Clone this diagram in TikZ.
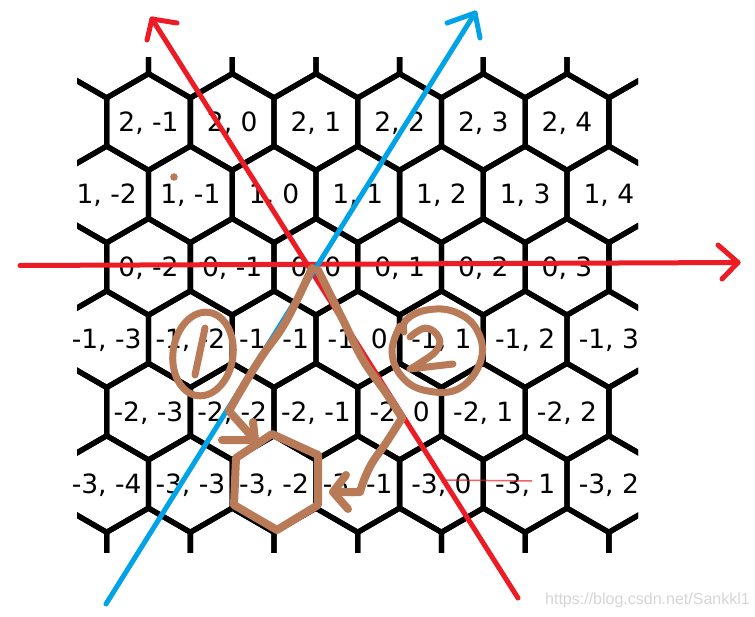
\documentclass[tikz,border=0pt]{standalone}
\usepackage{fontspec}
\newfontfamily\lblfont{DejaVu Sans}
\newfontfamily\wmfont{Liberation Sans}
\definecolor{pred}{HTML}{ED1C24}
\definecolor{pblue}{HTML}{00A2E8}
\definecolor{pbrown}{HTML}{B97A57}
\definecolor{wmgray}{HTML}{D6D6D6}
\tikzset{
  gridln/.style={line width=5.3bp, draw=black},
  lbl/.style={font=\lblfont\fontsize{26.5bp}{30bp}\selectfont, inner sep=0pt, anchor=base, text=black},
  redln/.style={line width=5bp, draw=pred, line cap=round, line join=round},
  blueln/.style={line width=5bp, draw=pblue, line cap=round, line join=round},
  brn/.style={line width=8bp, draw=pbrown, line cap=round, line join=round},
  wm/.style={font=\wmfont\fontsize{16bp}{18bp}\selectfont, text=wmgray, inner sep=0pt},
}
\begin{document}
\begin{tikzpicture}[x=1bp,y=-1bp]
\useasboundingbox (0,0) rectangle (755,617);
\fill[white] (0,0) rectangle (755,617);
% hex grid
\begin{scope}
\clip (77,58) rectangle (638,552);
\foreach \rw in {-4,...,3} {
  \pgfmathsetmacro\cy{266.8-72.4*\rw}
  \pgfmathsetmacro\xo{148.5-41.85*abs(mod(\rw,2))}
  \foreach \k in {-1,...,7} {
    \pgfmathsetmacro\cx{\xo+83.7*\k}
    \draw[gridln] (\cx+41.85,\cy+24.15) -- (\cx,\cy+48.3) -- (\cx-41.85,\cy+24.15)
      -- (\cx-41.85,\cy-24.15) -- (\cx,\cy-48.3) -- (\cx+41.85,\cy-24.15) -- cycle;
  }
}
\end{scope}
% labels
\foreach \rw/\xo/\co/\nn in {2/148.5/-1/5, 1/106.65/-2/6, 0/148.5/-2/5, -1/106.65/-3/6, -2/148.5/-3/5, -3/106.65/-4/6} {
  \foreach \k in {0,...,\nn} {
    \pgfmathtruncatemacro\cc{\co+\k}
    \pgfmathsetmacro\cx{\xo+83.7*\k}
    \pgfmathsetmacro\cy{266.8-72.4*\rw+9.5}
    \node[lbl] (t\rw x\k) at (\cx,\cy) {\rw, \cc};
  }
}
% faint thin red line
\coordinate (fa) at (445,480);
\coordinate (fb) at (532,481);
\draw[line width=1.5bp, draw=pred, opacity=0.7] (fa) -- (fb);
% red horizontal axis
\coordinate (rhA) at (20,265.5);
\coordinate (rhT) at (738,262.5);
\coordinate (rhH1) at (718,245);
\coordinate (rhH2) at (722,279);
\draw[redln] (rhA) -- (rhT);
\draw[redln] (rhH1) -- (rhT) -- (rhH2);
% red diagonal axis
\coordinate (rdA) at (518,598);
\coordinate (rdT) at (152,19);
\coordinate (rdH1) at (177,23);
\coordinate (rdH2) at (147,40);
\draw[redln] (rdA) -- (rdT);
\draw[redln] (rdH1) -- (rdT) -- (rdH2);
% blue diagonal axis
\coordinate (blA) at (106,604);
\coordinate (blT) at (475,13);
\coordinate (blH1) at (447,23);
\coordinate (blH2) at (480,38);
\draw[blueln] (blA) -- (blT);
\draw[blueln] (blH1) -- (blT) -- (blH2);
% brown annotations
\fill[pbrown] (174,177) circle (3.8);
% circled 1
\draw[brn, line width=7bp, rotate around={-8:(203,354)}] (203,354) ellipse [x radius=30, y radius=42];
\draw[brn, line width=7bp] (205,328) -- (195,375);
% circled 2
\draw[brn, line width=7bp] plot[smooth, tension=0.7] coordinates {(400,326) (392,352) (403,378) (428,391) (460,388) (481,360) (477,330) (455,312) (427,310) (406,320) (404,332)};
\draw[brn, line width=7bp] plot[smooth, tension=0.7] coordinates {(410,337) (426,328) (439,338) (436,351) (420,363) (410,369)} -- (427,367) -- (453,364);
% path 1
\coordinate (p1s) at (312,268);
\coordinate (p1c) at (229,411);
\coordinate (p1t) at (255,440);
\draw[brn] plot[smooth, tension=0.6] coordinates {(p1s) (298,298) (282,328) (262,356) (244,385) (p1c)} -- (p1t);
\draw[brn] (222,440) -- (p1t) -- (253,422);
% path 2
\coordinate (p2s) at (318,270);
\coordinate (p2c) at (402,418);
\coordinate (p2t) at (333,492);
\draw[brn] plot[smooth, tension=0.6] coordinates {(p2s) (330,294) (343,320) (363,360) (386,393) (p2c)};
\draw[brn] plot[smooth, tension=0.6] coordinates {(p2c) (386,443) (372,463) (364,480) (360,492)} -- (p2t);
\draw[brn] (346,475) -- (p2t) -- (348,509);
% brown hexagon
\draw[brn] (272,434) -- (318,455) -- (318,505) -- (277,530) -- (234,505) -- (236,458) -- cycle;
% watermark
\node[wm, anchor=base west] (wmk) at (545,604) {https://blog.csdn.net/Sankkl1};
\end{tikzpicture}
\end{document}
